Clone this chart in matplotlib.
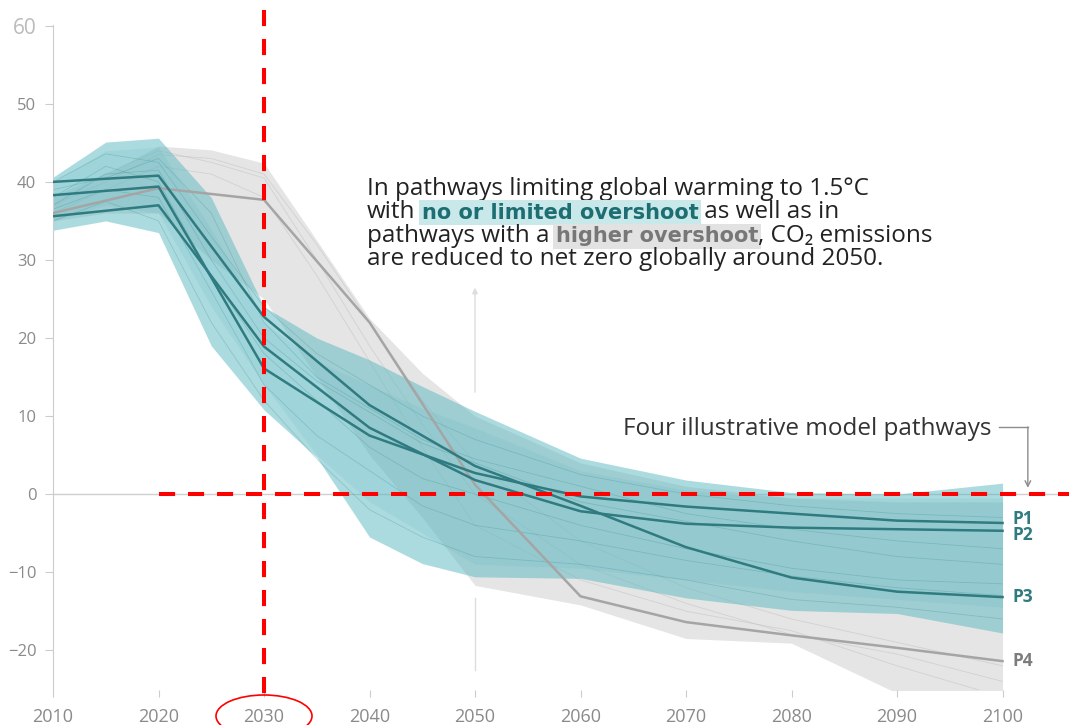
import matplotlib
matplotlib.use("Agg")
import matplotlib.pyplot as plt
import matplotlib.transforms as mtransforms
from matplotlib.patches import Ellipse

plt.rcParams['font.family'] = ['Open Sans', 'DejaVu Sans']

## data (GtCO2 / yr)
years = [2010, 2020, 2030, 2040, 2050, 2060, 2070, 2080, 2090, 2100]
years_fine = [2010, 2015, 2020, 2025, 2030, 2035, 2040, 2045, 2050, 2060, 2070, 2080, 2090, 2100]

p1 = [38.3, 39.4, 16.1, 7.5, 2.7, -0.3, -1.6, -2.5, -3.4, -3.7]
p2 = [35.6, 37.0, 18.9, 8.5, 1.8, -2.2, -3.8, -4.3, -4.5, -4.7]
p3 = [40.0, 40.8, 22.7, 11.4, 3.6, -1.5, -6.8, -10.7, -12.5, -13.2]
p4 = [36.0, 39.2, 37.7, 22.0, 1.2, -13.1, -16.4, -18.1, -19.7, -21.4]

# no or limited overshoot range
low_os_hi = [40.6, 45.1, 45.6, 38.0, 24.0, 20.0, 17.2, 13.8, 10.6, 4.6, 1.8, 0.2, 0.0, 1.4]
low_os_lo = [33.8, 35.0, 33.5, 19.0, 10.8, 4.7, -5.5, -8.9, -10.6, -10.8, -13.3, -14.9, -15.3, -17.8]
# denser core of the same range
core_hi = [40.0, 44.0, 44.5, 34.0, 22.0, 17.0, 14.0, 11.0, 8.5, 3.0, 0.5, -0.5, -0.5, -0.5]
core_lo = [35.0, 37.0, 36.0, 24.0, 14.0, 5.0, -1.0, -5.0, -9.0, -9.5, -11.0, -12.5, -13.5, -14.5]

# higher overshoot range
high_os_hi = [38.0, 41.0, 44.6, 44.1, 42.4, 32.5, 22.5, 15.5, 10.0, 4.0, 1.0, -0.5, -1.0, -1.0]
high_os_lo = [35.0, 36.0, 36.0, 30.0, 25.0, 15.0, 5.0, -3.0, -11.7, -14.2, -18.5, -19.1, -25.5, -30.0]

# a few individual pathways
low_os_paths = [
    [40.0, 43.6, 42.5, 33.0, 24.0, 18.0, 14.0, 10.0, 7.0, 2.5, 0.0, -1.5, -2.5, -3.0],
    [37.0, 41.0, 41.5, 30.0, 20.0, 14.5, 10.5, 6.5, 4.0, -1.0, -3.5, -6.0, -8.0, -9.0],
    [36.5, 39.0, 38.0, 26.0, 14.0, 7.5, 3.0, -1.5, -4.0, -6.0, -8.5, -10.5, -12.0, -13.0],
    [35.0, 37.5, 35.0, 22.0, 12.0, 4.5, -2.0, -5.5, -8.0, -9.0, -11.0, -13.5, -14.5, -16.0],
    [38.0, 42.0, 40.0, 28.0, 18.0, 12.0, 6.0, 2.0, 0.0, -4.0, -7.0, -9.5, -11.0, -11.5],
    [39.0, 40.5, 43.0, 36.0, 22.0, 15.0, 11.0, 7.0, 4.5, 1.0, -2.5, -4.5, -6.0, -7.0],
]
high_os_paths = [
    [37.0, 40.0, 43.5, 43.0, 41.0, 32.0, 22.0, 12.0, 4.0, -6.0, -12.0, -16.0, -19.0, -22.0],
    [36.0, 39.0, 42.0, 41.0, 38.0, 28.0, 17.0, 6.0, -4.0, -11.0, -15.0, -17.5, -22.0, -26.0],
    [38.0, 41.0, 44.0, 42.5, 40.5, 30.0, 19.0, 9.0, 0.0, -9.0, -14.0, -18.0, -20.5, -24.0],
]

x_ticks = list(range(2010, 2101, 10))
y_ticks = [-20, -10, 0, 10, 20, 30, 40, 50, 60]

TEAL = '#2f7b80'
TEAL_FILL = '#5bb8c1'
GREY_LINE = '#a5a5a5'

fig = plt.figure(figsize=(10.69, 7.25), dpi=100)
ax = fig.add_axes([53 / 1069, 35 / 725, 1 - 53 / 1069, 665 / 725])

ax.axhline(0, color='#cfcfcf', lw=1, zorder=0)

## envelopes
ax.fill_between(years_fine, high_os_lo, high_os_hi, color='#e5e5e5', lw=0, zorder=1)
for path in high_os_paths:
    ax.plot(years_fine, path, color='#c4c4c4', lw=0.6, alpha=0.6, zorder=1.5)
ax.fill_between(years_fine, low_os_lo, low_os_hi, color=TEAL_FILL, alpha=0.5, lw=0, zorder=2)
ax.fill_between(years_fine, core_lo, core_hi, color=TEAL_FILL, alpha=0.15, lw=0, zorder=2.1)
for path in low_os_paths:
    ax.plot(years_fine, path, color='#3d8f95', lw=0.6, alpha=0.3, zorder=2.2)

## illustrative pathways
ax.plot(years, p4, color=GREY_LINE, lw=1.8, zorder=3)
for p in (p1, p2, p3):
    ax.plot(years, p, color=TEAL, lw=1.8, zorder=3.1)

label_style = dict(fontsize=12.5, fontweight='bold', va='center', ha='left',
                   textcoords='offset points', annotation_clip=False)
ax.annotate('P1', xy=(2100, p1[-1]), xytext=(7, 3), color=TEAL, **label_style)
ax.annotate('P2', xy=(2100, p2[-1]), xytext=(7, -3), color=TEAL, **label_style)
ax.annotate('P3', xy=(2100, p3[-1]), xytext=(7, 0), color=TEAL, **label_style)
ax.annotate('P4', xy=(2100, p4[-1]), xytext=(7, 0), color='#7d7d7d', **label_style)

## axes styling
ax.set_xlim(2010, 2106.3)
ax.set_ylim(-25.1, 60.1)
ax.set_xticks(x_ticks)
ax.set_yticks(y_ticks)
for side in ('top', 'right', 'bottom'):
    ax.spines[side].set_visible(False)
ax.spines['left'].set_color('#cccccc')
ax.tick_params(axis='x', colors='#cccccc', labelcolor='#8a8a8a', labelsize=13, length=5, pad=8)
ax.tick_params(axis='y', colors='#cccccc', labelcolor='#8a8a8a', labelsize=12, length=6, pad=6)
top_label = ax.get_yticklabels()[-1]
top_label.set_fontsize(15)
top_label.set_color('#bbbbbb')

## text block with highlighted phrases
plain = dict(fontsize=17.5, color='#222222')
teal_hl = dict(fontsize=15, family='DejaVu Sans', color='#1d6e73', fontweight='bold',
               bbox=dict(boxstyle='square,pad=0.12', fc='#c8e8ea', ec='none'))
grey_hl = dict(fontsize=15, family='DejaVu Sans', color='#777777', fontweight='bold',
               bbox=dict(boxstyle='square,pad=0.12', fc='#e2e2e2', ec='none'))
space = 4.5
lift = 1.1  # evens out baselines between the two fonts

lines = [
    [("In pathways limiting global warming to 1.5°C", plain, 0, 0)],
    [("with", plain, 0, 0), ("no or limited overshoot", teal_hl, space, lift),
     (" as well as in", plain, 0, -lift)],
    [("pathways with a", plain, 0, 0), ("higher overshoot", grey_hl, space, lift),
     (", CO₂ emissions", plain, 0, -lift)],
    [("are reduced to net zero globally around 2050.", plain, 0, 0)],
]
y0 = 0.7353
for i, parts in enumerate(lines):
    prev = None
    for text, style, gap, dy in parts:
        if prev is None:
            prev = ax.text(0.309, y0 - i * 0.0351, text, transform=ax.transAxes,
                           va='bottom', ha='left', zorder=6, **style)
        else:
            prev = ax.annotate(text, xy=(1, 0), xycoords=prev, xytext=(gap, dy),
                               textcoords='offset points', va='bottom', ha='left',
                               zorder=6, **style)

# pointer at 2050
ax.annotate('', xy=(2050, 26.8), xytext=(2050, 12.7),
            arrowprops=dict(arrowstyle='-|>', color='#dddddd', lw=1, mutation_scale=8), zorder=0.5)
ax.plot([2050, 2050], [-13.3, -22.6], color='#dddddd', lw=1, zorder=0.5)

ax.text(2099.0, 7.6, 'Four illustrative model pathways', fontsize=17.5, color='#333333',
        ha='right', va='baseline')
ax.plot([2099.7, 2102.4], [8.6, 8.6], color='#8c8c8c', lw=1)
ax.annotate('', xy=(2102.4, 0.8), xytext=(2102.4, 8.6),
            arrowprops=dict(arrowstyle='->', color='#8c8c8c', lw=1, shrinkA=0, shrinkB=0))

## red markers at 2030 and net zero
red_dash = dict(color='#ff0000', lw=2.9, linestyle=(0, (4, 3.2)), zorder=10, clip_on=False)
ax.plot([2030, 2030], [62.05, -26.0], **red_dash)
ax.plot([2020, 2106.3], [0, 0], **red_dash)
blend = mtransforms.blended_transform_factory(ax.transData, fig.transFigure)
ax.add_patch(Ellipse((2030, 1 - 716 / 725), width=9.1, height=42 / 725, transform=blend,
                     fill=False, ec='#ff0000', lw=1.2, clip_on=False, zorder=10))

fig.savefig('out.png', dpi=100)
